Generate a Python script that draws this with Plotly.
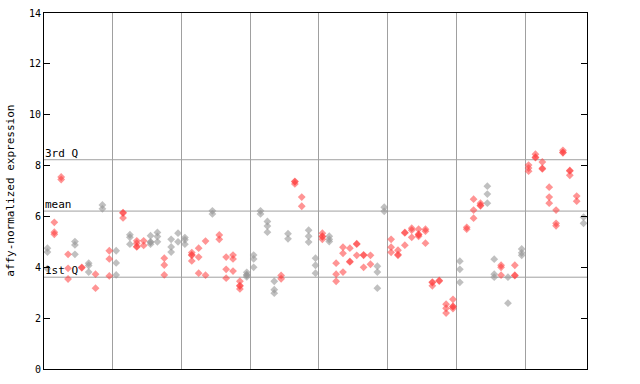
import plotly.graph_objects as go

# values per sample (replicates stacked at same x)
sample_values = [
    [4.75, 4.6, 3.95], [5.77, 5.38, 5.3], [7.55, 7.45], [4.51, 3.96, 3.54],
    [5.01, 4.88, 4.51], [4.0, 3.98], [4.16, 4.07, 3.81], [3.73, 3.18],
    [6.45, 6.3], [4.65, 4.33, 3.66], [4.65, 4.17, 3.70], [6.15, 6.13, 5.94],
    [5.28, 5.18, 4.91], [5.04, 4.95, 4.82, 4.8], [5.04, 4.86], [5.24, 5.0, 4.98, 4.91],
    [5.37, 5.21, 5.0], [4.36, 4.09, 3.7], [5.1, 4.8, 4.6], [5.34, 5.0],
    [5.17, 5.08, 4.91], [4.58, 4.49, 4.47, 4.25], [4.75, 4.4, 3.77], [5.03, 3.69],
    [6.22, 6.1], [5.27, 5.1], [4.4, 3.92, 3.57], [4.48, 4.33, 3.85],
    [3.45, 3.28, 3.26, 3.15], [3.8, 3.71, 3.69, 3.62], [4.48, 4.33, 4.0], [6.22, 6.1],
    [5.8, 5.62, 5.38], [3.45, 3.12, 2.98], [3.68, 3.55], [5.32, 5.12],
    [7.38, 7.36, 7.28], [6.76, 6.4], [5.46, 5.22, 4.99], [4.36, 4.08, 3.77],
    [5.34, 5.22, 5.2, 5.1], [5.22, 5.1, 5.01], [4.16, 3.73, 3.45], [4.79, 4.55, 3.81],
    [4.75, 4.23, 4.21], [4.93, 4.91, 4.47], [4.49, 4.47, 4.0], [4.47, 4.12],
    [4.04, 3.81, 3.18], [6.36, 6.2], [5.1, 4.79, 4.59], [4.67, 4.5, 4.47],
    [5.37, 5.35, 4.87], [5.54, 5.46, 5.18], [5.5, 5.3, 5.28, 5.22], [5.5, 5.42, 4.95],
    [3.42, 3.4, 3.27], [3.48, 3.46], [2.55, 2.39, 2.2], [2.74, 2.47, 2.45, 2.38],
    [4.24, 3.92, 3.41], [5.57, 5.5], [6.68, 6.25, 5.93], [6.52, 6.44, 6.42],
    [7.19, 6.88, 6.52], [4.32, 3.73, 3.61], [4.08, 4.0, 3.69], [3.61, 2.59],
    [4.08, 3.69, 3.67], [4.72, 4.57, 4.47], [8.02, 7.9, 7.78], [8.45, 8.33, 8.31],
    [8.14, 7.89, 7.87], [7.15, 6.76, 6.52], [6.25, 5.73, 5.63], [8.6, 8.52, 8.5],
    [7.81, 7.79, 7.62], [6.8, 6.6], [5.97, 5.73],
]

# 'g' = grey group, 'r' = red group
sample_groups = list(
    "grrrgrgrgr" "grgrrggrgg"
    "grrrgrrrrg" "ggggrgrrgg"
    "rgrrrrrrgg" "rrrrrrrrrr"
    "grrrggrgrg" "rrrrrrrrg"
)

q1_value = 3.61
mean_value = 6.21
q3_value = 8.23
y_ticks = [0, 2, 4, 6, 8, 10, 12, 14]
x_grid = [10, 20, 30, 40, 50, 60, 70]
n_samples = len(sample_values)

colors = {"g": "rgba(150,150,150,0.6)", "r": "rgba(255,60,60,0.55)"}

fig = go.Figure()
for grp in ["g", "r"]:
    xs, ys = [], []
    for i, vals in enumerate(sample_values):
        if sample_groups[i] == grp:
            for v in vals:
                xs.append(i + 0.5)
                ys.append(v)
    fig.add_trace(go.Scatter(
        x=xs, y=ys, mode="markers",
        marker=dict(symbol="diamond", size=6, color=colors[grp], line=dict(width=0)),
        showlegend=False, hoverinfo="skip",
    ))

line_col = "#a0a0a0"
for val in [q1_value, mean_value, q3_value]:
    fig.add_shape(type="line", xref="x", yref="y", x0=0, x1=n_samples, y0=val, y1=val,
                  line=dict(color=line_col, width=1), layer="below")

mono = "DejaVu Sans Mono"
for val, label in [(q3_value, "3rd Q"), (mean_value, "mean"), (q1_value, "1st Q")]:
    fig.add_annotation(x=0, y=val, xref="x", yref="y", text=label, showarrow=False,
                       xanchor="left", yanchor="bottom", xshift=-1, yshift=-2,
                       font=dict(family=mono, size=11, color="black"))

fig.add_annotation(x=-0.063, y=0.5, xref="paper", yref="paper",
                   text="affy-normalized expression", textangle=-90, showarrow=False,
                   xanchor="center", yanchor="middle",
                   font=dict(family=mono, size=11, color="black"))

fig.update_xaxes(range=[0, n_samples], tickvals=x_grid, showticklabels=False, ticks="",
                 showgrid=True, gridcolor=line_col, gridwidth=1, zeroline=False,
                 showline=True, linecolor="black", linewidth=1, mirror=True,
                 automargin=False)
fig.update_yaxes(range=[0, 14], tickvals=y_ticks, ticktext=[str(t) for t in y_ticks],
                 ticks="inside", ticklen=6, tickcolor="black", showgrid=False,
                 zeroline=False, showline=True, linecolor="black", linewidth=1,
                 mirror="ticks", tickfont=dict(family=mono, size=10, color="black"),
                 automargin=False)

fig.update_layout(width=640, height=384, margin=dict(l=44, r=53, t=13, b=15),
                  plot_bgcolor="white", paper_bgcolor="white")
fig.write_html("out.html")
